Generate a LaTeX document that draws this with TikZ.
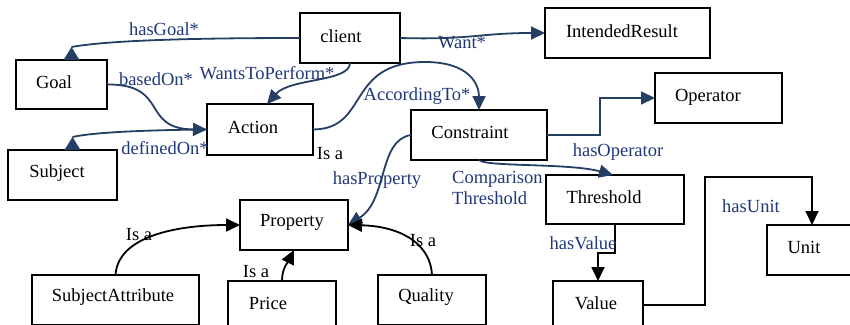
\documentclass[tikz,border=0pt]{standalone}
\usepackage{fontspec}
\setmainfont{Liberation Serif}
\usetikzlibrary{arrows.meta}
\definecolor{lnblue}{RGB}{36,62,100}
\definecolor{txblue}{RGB}{31,56,120}
\begin{document}
\begin{tikzpicture}[x=1pt,y=-1pt,
  box/.style={draw,line width=2pt,inner sep=0pt,outer sep=0pt},
  txt/.style={font=\fontsize{18.5}{21}\selectfont,inner sep=0pt},
  lbl/.style={font=\fontsize{18.5}{21}\selectfont,text=txblue,inner sep=0pt},
  bline/.style={draw=lnblue,line width=1.8pt},
  bconn/.style={draw=lnblue,line width=1.8pt,-{Triangle[length=14pt,width=13pt]}},
  kconn/.style={draw=black,line width=1.8pt,-{Triangle[length=14pt,width=13pt]}},
  btri/.style={fill=lnblue,draw=none}]
\useasboundingbox (0,0) rectangle (850,324);
\clip (0,0) rectangle (850,324);
% boxes
\node[box,minimum width=100pt,minimum height=50pt] (client) at (350,38) {};
\node[box,minimum width=91pt,minimum height=49pt] (Goal) at (61.5,84.5) {};
\node[box,minimum width=106pt,minimum height=51pt] (Action) at (260,129.5) {};
\node[box,minimum width=109pt,minimum height=50pt] (Subject) at (62.5,175) {};
\node[box,minimum width=165pt,minimum height=50pt] (IntendedResult) at (627.5,33) {};
\node[box,minimum width=127pt,minimum height=50pt] (Operator) at (718.5,98) {};
\node[box,minimum width=136pt,minimum height=50pt] (Constraint) at (479,135) {};
\node[box,minimum width=138pt,minimum height=49pt] (Threshold) at (615,199.5) {};
\node[box,minimum width=90pt,minimum height=48pt] (Value) at (598,305) {};
\node[box,minimum width=100pt,minimum height=50pt] (Unit) at (817,250) {};
\node[box,minimum width=108pt,minimum height=50pt] (Property) at (294,225) {};
\node[box,minimum width=167pt,minimum height=50pt] (SubjectAttribute) at (115.5,300) {};
\node[box,minimum width=108pt,minimum height=50pt] (Price) at (282,306) {};
\node[box,minimum width=108pt,minimum height=50pt] (Quality) at (432,300) {};
% box texts
\node[txt] (tclient) at (341,36) {client};
\node[txt] (tgoal) at (54,82) {Goal};
\node[txt] (taction) at (253,127) {Action};
\node[txt] (tsubject) at (57,173) {Subject};
\node[txt] (tintended) at (622,31) {IntendedResult};
\node[txt] (toperator) at (708,97) {Operator};
\node[txt] (tconstraint) at (470,132) {Constraint};
\node[txt] (tthreshold) at (604,197) {Threshold};
\node[txt] (tunit) at (804,247) {Unit};
\node[txt] (tvalue) at (596,303) {Value};
\node[txt] (tproperty) at (292,222) {Property};
\node[txt] (tsa) at (113,297) {SubjectAttribute};
\node[txt] (tprice) at (268,303) {Price};
\node[txt] (tquality) at (426,297) {Quality};
% connectors
\coordinate (gapex) at ([xshift=10pt,yshift=13pt]Goal.north);
\draw[bline] (client.west) .. controls (200,38) and (110,40) .. (gapex);
\fill[btri] ([xshift=2pt]Goal.north) -- (gapex) -- ([xshift=18pt]Goal.north) -- cycle;
\draw[bconn] (client.east) .. controls (470,40) and (480,33) .. (IntendedResult.west);
\draw[bconn] (client.south) .. controls (350,82) and (290,78) .. ([xshift=7pt]Action.north);
\draw[bconn] (Goal.east) .. controls (170,84) and (140,129) .. (Action.west);
\coordinate (sapex) at ([xshift=10pt,yshift=13pt]Subject.north);
\draw[bline] (Action.west) .. controls (150,130) and (95,132) .. (sapex);
\fill[btri] ([xshift=2pt]Subject.north) -- (sapex) -- ([xshift=18pt]Subject.north) -- cycle;
\draw[bconn] (Action.east) .. controls (370,129) and (345,62) .. (425,62) .. controls (470,62) and (479,85) .. (Constraint.north);
\draw[bconn] (Constraint.west) .. controls (378,140) and (388,200) .. (Property.east);
\draw[bconn] (Constraint.east) -- (600,135) |- (Operator.west);
\draw[bconn] (Constraint.south) .. controls (485,167) and (570,163) .. ([xshift=-2pt]Threshold.north);
\draw[kconn] (Threshold.south) -- ++(0,29) -| (Value.north);
\coordinate (u1) at (705,177);
\draw[kconn] (Value.east) -| (u1) -| ([xshift=-5pt]Unit.north);
\draw[kconn] (SubjectAttribute.north) .. controls (118,235) and (180,225) .. (Property.west);
\draw[kconn] (Price.north) .. controls (282,268) and (288,262) .. (Property.south);
\draw[kconn] (Quality.north) .. controls (430,240) and (395,226) .. (Property.east);
% labels
\node[lbl] (lhasgoal) at (164,29) {hasGoal*};
\node[lbl] (lwant) at (462,43) {Want*};
\node[lbl] (lwtp) at (267,73) {WantsToPerform*};
\node[lbl] (lbased) at (156,79) {basedOn*};
\node[lbl] (ldefined) at (165,148) {definedOn*};
\node[lbl] (laccording) at (417,96) {AccordingTo*};
\node[txt] (lisaaction) at (330,154) {Is a};
\node[lbl] (lhasprop) at (377,180) {hasProperty};
\node[lbl] (lhasop) at (618,152) {hasOperator};
\node[lbl,align=left,anchor=west] (lcomp) at (452,188) {Comparison\\Threshold};
\node[lbl] (lhasvalue) at (583,243) {hasValue};
\node[lbl] (lhasunit) at (751,206) {hasUnit};
\node[txt] (lisasa) at (139,235) {Is a};
\node[txt] (lisaprice) at (256,272) {Is a};
\node[txt] (lisaquality) at (423,241) {Is a};
\end{tikzpicture}
\end{document}
